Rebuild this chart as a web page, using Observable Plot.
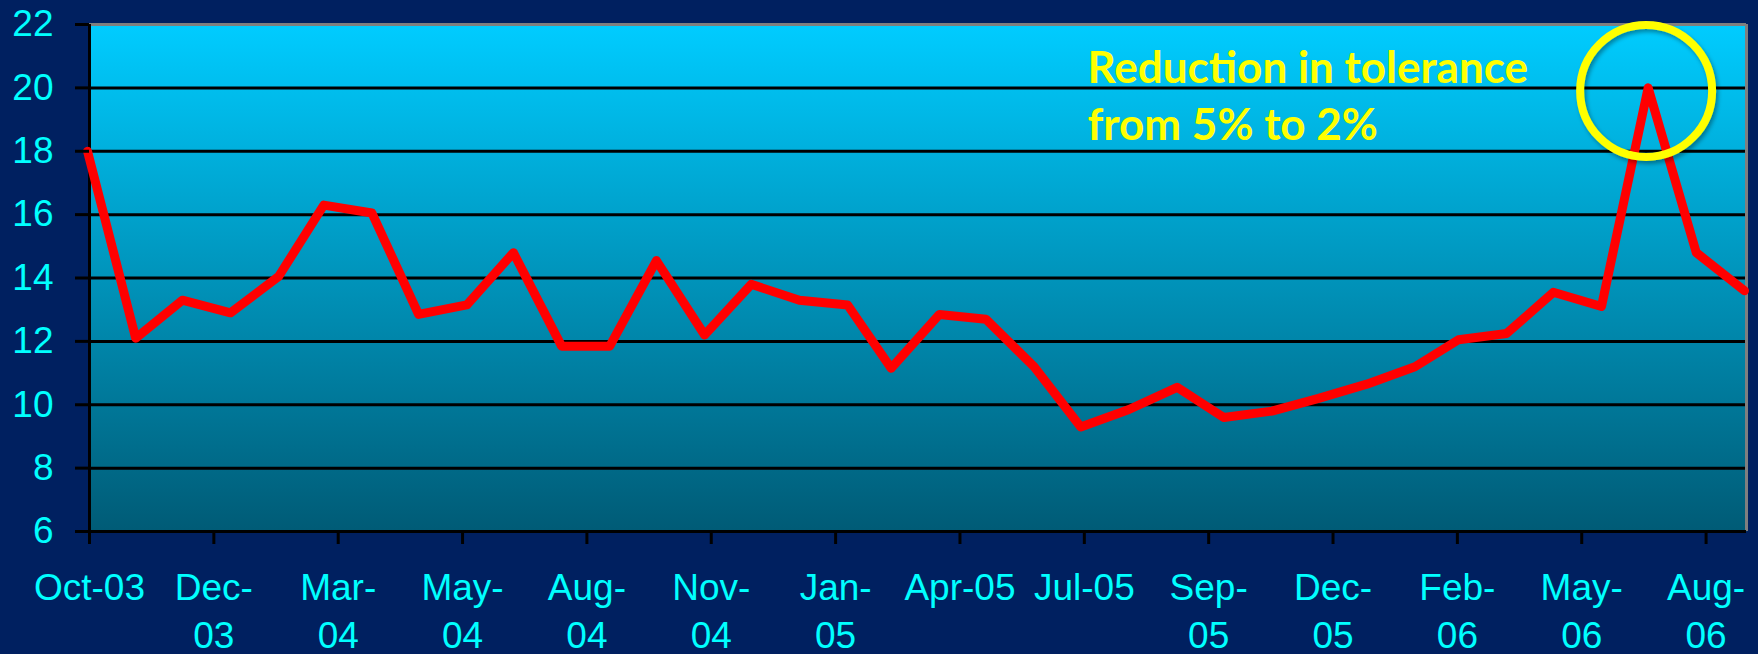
<!DOCTYPE html>
<html>
<head>
<meta charset="utf-8">
<script src="https://cdn.jsdelivr.net/npm/d3@7"></script>
<script src="https://cdn.jsdelivr.net/npm/@observablehq/plot@0.6"></script>
<style>
  html, body { margin: 0; padding: 0; background: #002060; }
  #chart { width: 1758px; height: 654px; }
</style>
</head>
<body>
<div id="chart"></div>
<script>
// Monthly series, Oct-03 .. Sep-06
const months = [
  "2003-10","2003-11","2003-12","2004-01","2004-02","2004-03","2004-04","2004-05","2004-06",
  "2004-07","2004-08","2004-09","2004-10","2004-11","2004-12","2005-01","2005-02","2005-03",
  "2005-04","2005-05","2005-06","2005-07","2005-08","2005-09","2005-10","2005-11","2005-12",
  "2006-01","2006-02","2006-03","2006-04","2006-05","2006-06","2006-07","2006-08","2006-09"
];
const values = [
  18.0, 12.1, 13.3, 12.9, 14.05, 16.3, 16.05, 12.85, 13.15,
  14.8, 11.85, 11.85, 14.55, 12.2, 13.8, 13.3, 13.15, 11.15,
  12.85, 12.7, 11.2, 9.3, 9.85, 10.55, 9.6, 9.8, 10.2,
  10.65, 11.2, 12.05, 12.25, 13.55, 13.1, 20.0, 14.8, 13.6
];

// Axis ticks (Excel date axis, one major tick every 80 days)
const yTicks = [6, 8, 10, 12, 14, 16, 18, 20, 22];
const xTickDates = [
  "2003-10-01","2003-12-20","2004-03-09","2004-05-28","2004-08-16","2004-11-04","2005-01-23",
  "2005-04-13","2005-07-02","2005-09-20","2005-12-09","2006-02-27","2006-05-18","2006-08-06"
];
const xTickLabels = [
  "Oct-03","Dec-\n03","Mar-\n04","May-\n04","Aug-\n04","Nov-\n04","Jan-\n05",
  "Apr-05","Jul-05","Sep-\n05","Dec-\n05","Feb-\n06","May-\n06","Aug-\n06"
];

// Annotation
const annotationText = ["Reduction in tolerance\nfrom 5% to 2%"];
const highlightMonth = ["2006-07"];

const parseDate = s => new Date((s.length === 7 ? s + "-01" : s) + "T00:00:00Z");
const data = months.map((m, i) => ({date: parseDate(m), value: values[i]}));
const tickDates = xTickDates.map(parseDate);
const tickLabel = new Map(tickDates.map((d, i) => [+d, xTickLabels[i]]));
const highlight = data.filter(d => highlightMonth.map(m => +parseDate(m)).includes(+d.date));

const chart = Plot.plot({
  width: 1758,
  height: 654,
  marginLeft: 89,
  marginRight: 12,
  marginTop: 24,
  marginBottom: 123,
  style: {
    background: "#002060",
    fontFamily: "'Liberation Sans', Arial, sans-serif",
    color: "#00FFFF",
    overflow: "visible"
  },
  x: {type: "utc", domain: [data[0].date, data[data.length - 1].date]},
  y: {domain: [6, 22]},
  marks: [
    Plot.frame({fill: "url(#plotGrad)", stroke: null}),
    Plot.ruleY(yTicks.filter(t => t > 6 && t < 22), {stroke: "#000000", strokeWidth: 3}),
    Plot.ruleY([22], {stroke: "#7f7f7f", strokeWidth: 3}),
    Plot.ruleX([data[data.length - 1].date], {stroke: "#7f7f7f", strokeWidth: 3}),
    Plot.ruleX([data[0].date], {stroke: "#000000", strokeWidth: 3}),
    Plot.ruleY([6], {stroke: "#000000", strokeWidth: 3}),
    Plot.line(data, {x: "date", y: "value", stroke: "#FF0000", strokeWidth: 9, strokeLinejoin: "round", dx: -2}),
    Plot.axisY({
      ticks: yTicks, tickSize: 14, tickPadding: 22, stroke: "#000000", strokeWidth: 3,
      fill: "#00FFFF", fontSize: 37, label: null
    }),
    Plot.axisX({
      ticks: tickDates, tickFormat: d => tickLabel.get(+d), tickSize: 13, tickPadding: 21,
      stroke: "#000000", strokeWidth: 3, fill: "#00FFFF", fontSize: 37, lineHeight: 1.3, label: null
    }),
    Plot.dot(highlight, {
      x: "date", y: "value", r: 66, stroke: "#FFFF00", strokeWidth: 8, fill: "none", dx: -4, dy: 3
    }),
    Plot.text(annotationText, {
      frameAnchor: "top-left", dx: 998, dy: 18, textAnchor: "start", lineAnchor: "top",
      fill: "#FFFF00", fontSize: 44, fontWeight: "bold", fontFamily: "Lato, 'Open Sans', sans-serif",
      lineHeight: 1.29
    })
  ]
});

// gradient background for the plot area
const defs = d3.select(chart).insert("defs", ":first-child");
const grad = defs.append("linearGradient").attr("id", "plotGrad")
  .attr("x1", 0).attr("y1", 0).attr("x2", 0).attr("y2", 1);
grad.append("stop").attr("offset", "0%").attr("stop-color", "#00CCFF");
grad.append("stop").attr("offset", "100%").attr("stop-color", "#005B76");
const filt = defs.append("filter").attr("id", "shadow").attr("x", "-20%").attr("y", "-20%").attr("width", "140%").attr("height", "140%");
filt.append("feDropShadow").attr("dx", 2).attr("dy", 3).attr("stdDeviation", 2).attr("flood-color", "#000").attr("flood-opacity", 0.35);
d3.select(chart).selectAll("g[aria-label=dot]").attr("filter", "url(#shadow)");

document.getElementById("chart").appendChild(chart);
</script>
</body>
</html>
